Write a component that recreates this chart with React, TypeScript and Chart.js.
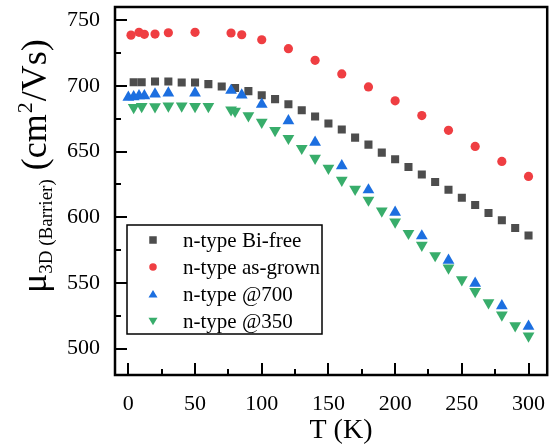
import React, { useEffect, useRef } from 'react';
import { Chart, registerables } from 'chart.js';

Chart.register(...registerables);

const biFreeT = [4, 10, 20, 30, 40, 50, 60, 70, 80, 90, 100, 110, 120, 130, 140, 150, 160, 170, 180, 190, 200, 210, 220, 230, 240, 250, 260, 270, 280, 290, 300];
const biFreeMu = [702.8, 702.8, 703.3, 703.3, 702.5, 702.5, 701.3, 699.5, 698.3, 696, 692.9, 689.9, 686, 681.4, 676.7, 671.3, 666.8, 660.6, 655.3, 649.2, 644.1, 638.3, 632.6, 626.8, 620.9, 614.9, 609.3, 603.2, 597.7, 591.9, 586.2];

const asGrownT = [2, 8, 12, 20, 30, 50, 77, 85, 100, 120, 140, 160, 180, 200, 220, 240, 260, 280, 300];
const asGrownMu = [738.6, 740.7, 739.2, 739.4, 740.4, 740.7, 740.2, 738.9, 735.1, 728.3, 719.4, 709.1, 699.2, 688.6, 677.4, 666.2, 653.9, 642.5, 631.1];

const a700T = [0, 4, 8, 12, 20, 30, 50, 77, 85, 100, 120, 140, 160, 180, 200, 220, 240, 260, 280, 300];
const a700Mu = [691.2, 691.7, 692.4, 692.4, 693.7, 694.5, 694.5, 696.5, 693, 686, 673.4, 657.1, 639.1, 620.8, 603.7, 585.8, 567.2, 549.7, 532.6, 517.1];

const a350T = [4, 10, 20, 30, 40, 50, 60, 77, 80, 90, 100, 110, 120, 130, 140, 150, 160, 170, 180, 190, 200, 210, 220, 230, 240, 250, 260, 270, 280, 290, 300];
const a350Mu = [683.6, 684.3, 684.1, 684.8, 684.8, 684.3, 684.3, 681.8, 680.8, 677.3, 672.3, 666.1, 660.1, 652.5, 644.9, 637.3, 628.3, 621.4, 613.1, 604.9, 596.4, 587.8, 578.8, 570.9, 561.5, 552.5, 543.6, 535.1, 525.7, 517.5, 509.7];

const seriesNames = ['n-type Bi-free', 'n-type as-grown', 'n-type @700', 'n-type @350'];
const seriesColors = ['#4d4d4d', '#ef3e42', '#1c6fe0', '#38ad6b'];

const xTickValues = [0, 50, 100, 150, 200, 250, 300];
const yTickValues = [500, 550, 600, 650, 700, 750];
const xMinorValues = [25, 75, 125, 175, 225, 275];
const yMinorValues = [525, 575, 625, 675, 725];

const xTitle = 'T (K)';
const yTitleMain = 'μ';
const yTitleSub = '3D (Barrier)';
const yTitleUnitA = ' (cm';
const yTitleSup = '2';
const yTitleUnitB = '/Vs)';

const FONT = '"Liberation Serif", "Times New Roman", serif';

function toPts(xs: number[], ys: number[]) {
  return xs.map((x, i) => ({ x, y: ys[i] }));
}

function drawMarker(ctx: CanvasRenderingContext2D, kind: number, x: number, y: number, s: number) {
  ctx.beginPath();
  if (kind === 0) {
    ctx.rect(x - s * 0.5, y - s * 0.5, s, s);
  } else if (kind === 1) {
    ctx.arc(x, y, s * 0.5, 0, Math.PI * 2);
  } else if (kind === 2) {
    ctx.moveTo(x, y - s * 0.55);
    ctx.lineTo(x + s * 0.6, y + s * 0.45);
    ctx.lineTo(x - s * 0.6, y + s * 0.45);
    ctx.closePath();
  } else {
    ctx.moveTo(x, y + s * 0.55);
    ctx.lineTo(x + s * 0.6, y - s * 0.45);
    ctx.lineTo(x - s * 0.6, y - s * 0.45);
    ctx.closePath();
  }
  ctx.fill();
}

const decorPlugin = {
  id: 'decor',
  afterDraw(chart: any) {
    const { ctx, chartArea: a, scales } = chart;
    const x = scales.x;
    const y = scales.y;
    ctx.save();
    ctx.strokeStyle = '#000';
    ctx.lineWidth = 2;
    ctx.beginPath();
    xTickValues.forEach((v) => {
      const px = Math.round(x.getPixelForValue(v));
      ctx.moveTo(px, a.bottom);
      ctx.lineTo(px, a.bottom - 12);
    });
    xMinorValues.forEach((v) => {
      const px = Math.round(x.getPixelForValue(v));
      ctx.moveTo(px, a.bottom);
      ctx.lineTo(px, a.bottom - 6);
    });
    yTickValues.forEach((v) => {
      const py = Math.round(y.getPixelForValue(v));
      ctx.moveTo(a.left, py);
      ctx.lineTo(a.left + 12, py);
    });
    yMinorValues.forEach((v) => {
      const py = Math.round(y.getPixelForValue(v));
      ctx.moveTo(a.left, py);
      ctx.lineTo(a.left + 6, py);
    });
    ctx.stroke();
    ctx.lineWidth = 2.5;
    ctx.strokeRect(a.left, a.top, a.right - a.left, a.bottom - a.top);

    // legend
    const lx = a.left + 12;
    const ly = a.top + 218;
    const lw = 195;
    const lh = 109;
    ctx.fillStyle = '#fff';
    ctx.fillRect(lx, ly, lw, lh);
    ctx.lineWidth = 1.5;
    ctx.strokeRect(lx, ly, lw, lh);
    ctx.font = `21px ${FONT}`;
    ctx.textBaseline = 'middle';
    ctx.textAlign = 'left';
    seriesNames.forEach((name, i) => {
      const ry = ly + 15 + i * 27;
      ctx.fillStyle = seriesColors[i];
      drawMarker(ctx, i, lx + 26, ry, 7.5);
      ctx.fillStyle = '#000';
      ctx.fillText(name, lx + 56, ry + 1);
    });

    // x title
    ctx.fillStyle = '#000';
    ctx.font = `28px ${FONT}`;
    ctx.textAlign = 'center';
    ctx.textBaseline = 'alphabetic';
    ctx.fillText(xTitle, 341, 438);

    // y title (rotated)
    ctx.translate(46, 293);
    ctx.rotate(-Math.PI / 2);
    ctx.textAlign = 'left';
    let cx = 0;
    const mainF = `36px ${FONT}`;
    const subF = `19px ${FONT}`;
    const supF = `22px ${FONT}`;
    ctx.font = mainF;
    ctx.fillText(yTitleMain, cx, 0);
    cx += ctx.measureText(yTitleMain).width;
    ctx.font = subF;
    ctx.fillText(yTitleSub, cx, 6);
    cx += ctx.measureText(yTitleSub).width;
    ctx.font = mainF;
    ctx.fillText(yTitleUnitA, cx, 0);
    cx += ctx.measureText(yTitleUnitA).width;
    ctx.font = supF;
    ctx.fillText(yTitleSup, cx + 1, -14);
    cx += ctx.measureText(yTitleSup).width + 2;
    ctx.font = mainF;
    ctx.fillText(yTitleUnitB, cx, 0);
    ctx.restore();
  },
};

export default function App() {
  const ref = useRef<HTMLCanvasElement | null>(null);
  useEffect(() => {
    document.body.style.margin = '0';
    const canvas = ref.current;
    if (!canvas) return;
    const mk = (i: number, xs: number[], ys: number[], style: string, radius: number, rotation: number, order: number) => ({
      label: seriesNames[i],
      data: toPts(xs, ys),
      showLine: false,
      pointStyle: style,
      pointRadius: radius,
      pointRotation: rotation,
      pointBackgroundColor: seriesColors[i],
      pointBorderColor: seriesColors[i],
      pointBorderWidth: 0,
      backgroundColor: seriesColors[i],
      borderColor: seriesColors[i],
      order,
    });
    const zeroPad = (s: any) => {
      s.paddingLeft = 0;
      s.paddingRight = 0;
      s.paddingTop = 0;
      s.paddingBottom = 0;
    };
    const chart = new Chart(canvas, {
      type: 'scatter',
      data: {
        datasets: [
          mk(0, biFreeT, biFreeMu, 'rect', 5.7, 0, 4),
          mk(1, asGrownT, asGrownMu, 'circle', 4.6, 0, 3),
          mk(2, a700T, a700Mu, 'triangle', 6.8, 0, 1),
          mk(3, a350T, a350Mu, 'triangle', 6.8, 180, 2),
        ],
      },
      options: {
        responsive: false,
        animation: false,
        events: [],
        layout: { padding: { left: 0, top: 7, right: 2, bottom: 0 } },
        plugins: { legend: { display: false }, tooltip: { enabled: false } },
        scales: {
          x: {
            type: 'linear',
            min: -10,
            max: 314,
            grid: { display: false, drawTicks: false },
            border: { display: false },
            afterBuildTicks: (s: any) => {
              s.ticks = xTickValues.map((v) => ({ value: v }));
            },
            afterFit: (s: any) => {
              s.height = 70;
              zeroPad(s);
            },
            ticks: {
              autoSkip: false,
              maxRotation: 0,
              padding: 16,
              color: '#000',
              font: { family: FONT, size: 22 },
              callback: (v: any) => String(v),
            },
          },
          y: {
            type: 'linear',
            min: 480,
            max: 760,
            grid: { display: false, drawTicks: false },
            border: { display: false },
            afterBuildTicks: (s: any) => {
              s.ticks = yTickValues.map((v) => ({ value: v }));
            },
            afterFit: (s: any) => {
              s.width = 115;
              zeroPad(s);
            },
            ticks: {
              autoSkip: false,
              padding: 15,
              color: '#000',
              font: { family: FONT, size: 22 },
              callback: (v: any) => String(v),
            },
          },
        },
      },
      plugins: [decorPlugin],
    } as any);
    return () => chart.destroy();
  }, []);
  return (
    <div style={{ width: 554, height: 445, background: '#fff' }}>
      <canvas ref={ref} width={554} height={445} />
    </div>
  );
}
